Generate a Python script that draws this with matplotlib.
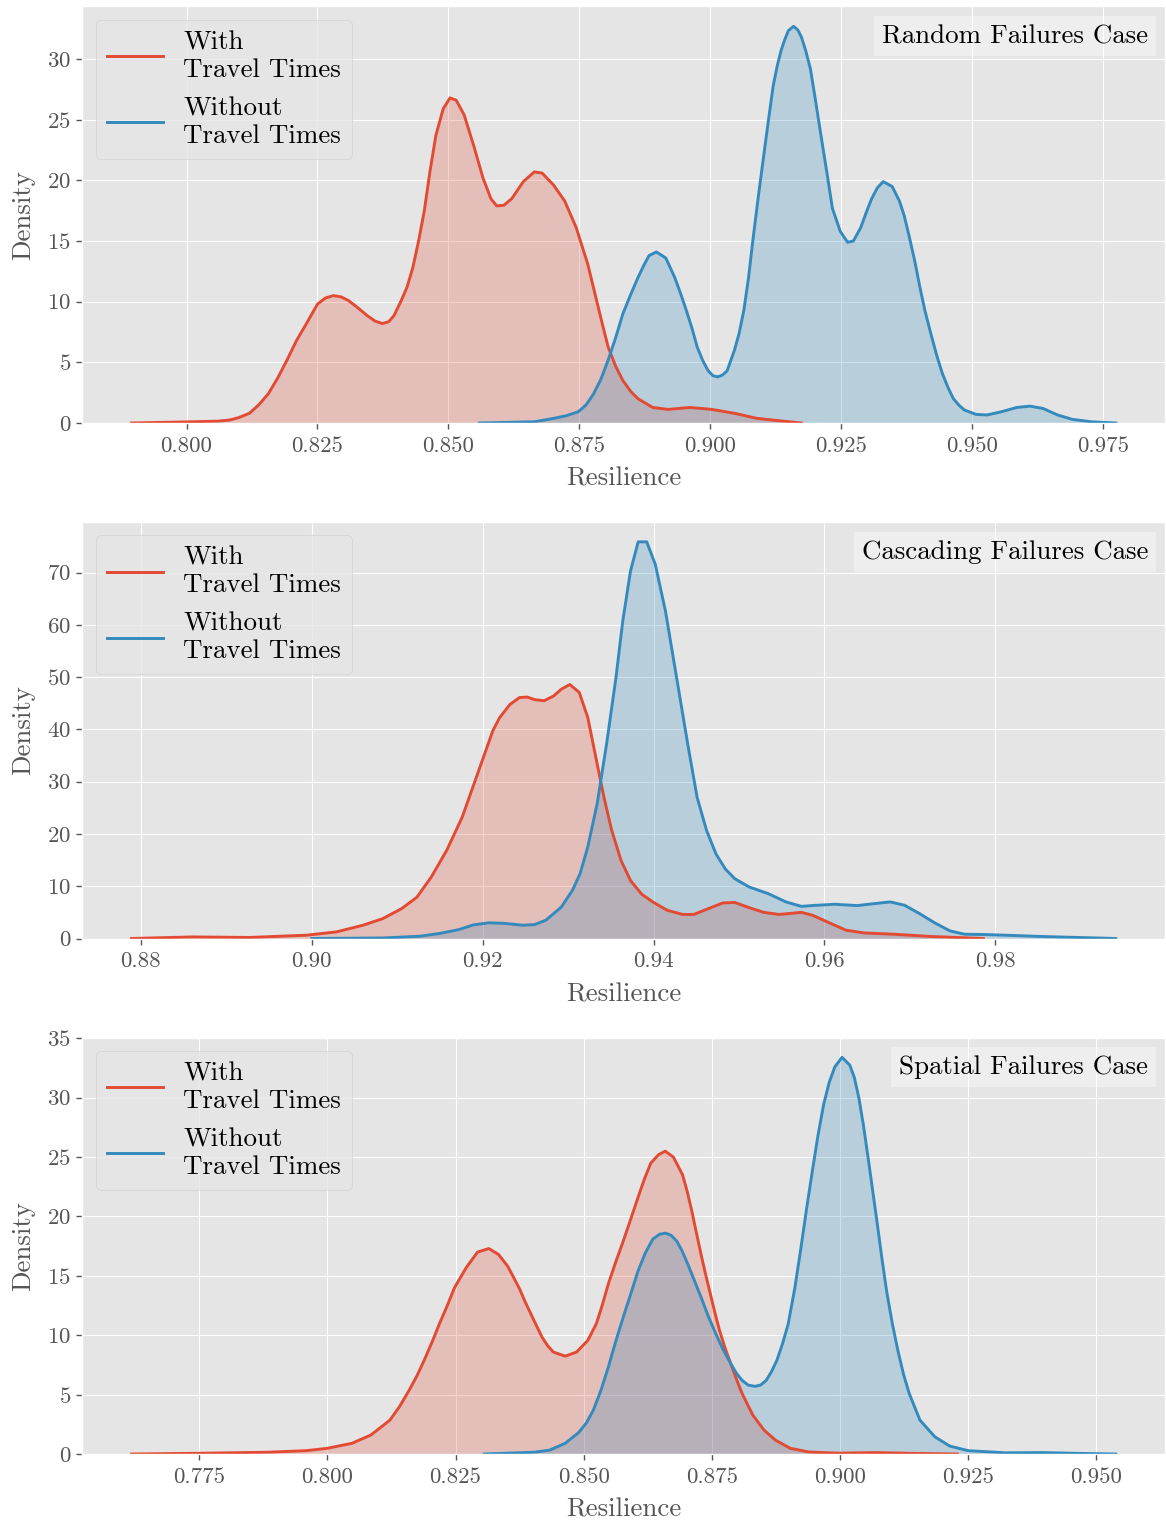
import matplotlib
matplotlib.use("Agg")
import matplotlib.pyplot as plt

plt.style.use("ggplot")
plt.rcParams["font.family"] = "serif"
plt.rcParams["font.serif"] = ["cmr10", "DejaVu Serif"]
plt.rcParams["axes.formatter.use_mathtext"] = True
plt.rcParams["mathtext.fontset"] = "cm"

# ---------------- data ----------------
case_titles = ["Random Failures Case", "Cascading Failures Case", "Spatial Failures Case"]
series_labels = ["With\nTravel Times", "Without\nTravel Times"]

rand_with_x = [0.7895, 0.7990, 0.8060, 0.8083, 0.8100, 0.8120, 0.8138, 0.8156, 0.8174, 0.8192,
               0.8210, 0.8229, 0.8250, 0.8265, 0.8280, 0.8295, 0.8309, 0.8327, 0.8345, 0.8360,
               0.8374, 0.8386, 0.8396, 0.8410, 0.8421, 0.8432, 0.8443, 0.8454, 0.8465, 0.8476,
               0.8490, 0.8503, 0.8515, 0.8530, 0.8548, 0.8566, 0.8581, 0.8592, 0.8606, 0.8621,
               0.8643, 0.8664, 0.8679, 0.8701, 0.8722, 0.8744, 0.8766, 0.8780, 0.8793, 0.8805,
               0.8819, 0.8833, 0.8848, 0.8862, 0.8890, 0.8919, 0.8961, 0.9003, 0.9046, 0.9089,
               0.9131, 0.9174]
rand_with_y = [0.0, 0.08, 0.15, 0.25, 0.45, 0.8, 1.5, 2.4, 3.7, 5.2,
               6.8, 8.2, 9.8, 10.3, 10.5, 10.4, 10.1, 9.5, 8.85, 8.4,
               8.2, 8.35, 8.85, 10.1, 11.2, 12.8, 15.0, 17.5, 20.8, 23.7,
               25.9, 26.8, 26.6, 25.4, 22.9, 20.2, 18.5, 17.9, 17.95, 18.5,
               19.9, 20.7, 20.6, 19.6, 18.3, 16.1, 13.1, 10.6, 8.3, 6.25,
               4.7, 3.5, 2.6, 2.0, 1.28, 1.12, 1.28, 1.12, 0.8, 0.38,
               0.19, 0.0]

rand_without_x = [0.8559, 0.8664, 0.8701, 0.8725, 0.8748, 0.8763, 0.8777, 0.8791, 0.8805, 0.8819,
                  0.8833, 0.8848, 0.8862, 0.8873, 0.8883, 0.8897, 0.8915, 0.8932, 0.8943, 0.8954,
                  0.8965, 0.8975, 0.8986, 0.8996, 0.9005, 0.9014, 0.9023, 0.9032, 0.9046, 0.9055,
                  0.9064, 0.9073, 0.9081, 0.9092, 0.9103, 0.9112, 0.9120, 0.9128, 0.9135, 0.9142,
                  0.9149, 0.9159, 0.9167, 0.9174, 0.9182, 0.9191, 0.9200, 0.9209, 0.9223, 0.9233,
                  0.9248, 0.9262, 0.9273, 0.9287, 0.9298, 0.9308, 0.9319, 0.9330, 0.9347, 0.9361,
                  0.9370, 0.9379, 0.9390, 0.9400, 0.9410, 0.9421, 0.9432, 0.9443, 0.9454, 0.9464,
                  0.9475, 0.9485, 0.9507, 0.9528, 0.9556, 0.9585, 0.9610, 0.9635, 0.9663, 0.9691,
                  0.9727, 0.9774]
rand_without_y = [0.0, 0.1, 0.38, 0.6, 0.93, 1.5, 2.4, 3.6, 5.2, 7.0,
                  9.0, 10.6, 12.0, 13.0, 13.8, 14.1, 13.6, 12.0, 10.7, 9.3,
                  7.8, 6.25, 5.1, 4.3, 3.9, 3.8, 3.95, 4.3, 6.0, 7.4,
                  9.3, 12.0, 15.0, 18.8, 22.4, 25.3, 27.8, 29.5, 30.7, 31.6,
                  32.35, 32.7, 32.4, 31.8, 30.7, 29.2, 26.8, 24.3, 20.5, 17.7,
                  15.8, 14.9, 15.0, 16.1, 17.4, 18.5, 19.4, 19.9, 19.5, 18.3,
                  17.1, 15.5, 13.4, 11.2, 9.2, 7.35, 5.6, 4.07, 2.9, 2.0,
                  1.45, 1.07, 0.71, 0.66, 0.93, 1.28, 1.39, 1.2, 0.66, 0.3,
                  0.1, 0.0]

casc_with_x = [0.8789, 0.8860, 0.8927, 0.8994, 0.9029, 0.9060, 0.9083, 0.9105, 0.9123, 0.9140,
               0.9158, 0.9176, 0.9194, 0.9212, 0.9220, 0.9232, 0.9243, 0.9252, 0.9261, 0.9272,
               0.9283, 0.9292, 0.9302, 0.9313, 0.9323, 0.9334, 0.9342, 0.9351, 0.9362, 0.9373,
               0.9386, 0.9399, 0.9416, 0.9434, 0.9447, 0.9464, 0.9481, 0.9495, 0.9512, 0.9529,
               0.9547, 0.9573, 0.9586, 0.9603, 0.9625, 0.9646, 0.9681, 0.9725, 0.9786]
casc_with_y = [0.0, 0.3, 0.2, 0.63, 1.27, 2.54, 3.8, 5.7, 7.9, 11.8,
               16.9, 23.2, 31.5, 39.8, 42.3, 44.8, 46.1, 46.2, 45.7, 45.5,
               46.4, 47.7, 48.6, 47.1, 42.3, 33.4, 27.0, 20.7, 14.9, 11.1,
               8.5, 7.0, 5.4, 4.6, 4.6, 5.7, 6.8, 6.9, 5.9, 5.0,
               4.6, 5.0, 4.45, 3.2, 1.6, 1.07, 0.82, 0.38, 0.0]

casc_without_x = [0.9000, 0.9083, 0.9127, 0.9149, 0.9172, 0.9189, 0.9207, 0.9225, 0.9247, 0.9261,
                  0.9274, 0.9292, 0.9305, 0.9314, 0.9323, 0.9334, 0.9345, 0.9356, 0.9364, 0.9373,
                  0.9382, 0.9392, 0.9402, 0.9414, 0.9427, 0.9440, 0.9451, 0.9462, 0.9473, 0.9484,
                  0.9495, 0.9512, 0.9534, 0.9555, 0.9573, 0.9590, 0.9612, 0.9638, 0.9660, 0.9677,
                  0.9694, 0.9712, 0.9729, 0.9747, 0.9764, 0.9786, 0.9812, 0.9855, 0.9941]
casc_without_y = [0.0, 0.1, 0.44, 0.95, 1.7, 2.6, 3.0, 2.9, 2.54, 2.67,
                  3.5, 6.0, 9.2, 12.4, 17.5, 25.8, 37.2, 49.9, 60.8, 70.3,
                  75.9, 75.9, 71.6, 62.6, 49.9, 37.2, 27.0, 20.7, 16.2, 13.3,
                  11.45, 9.85, 8.6, 7.0, 6.15, 6.35, 6.55, 6.3, 6.7, 7.0,
                  6.35, 4.7, 3.0, 1.45, 0.82, 0.76, 0.63, 0.38, 0.0]

spat_with_x = [0.7618, 0.7752, 0.7885, 0.7959, 0.8000, 0.8048, 0.8085, 0.8122, 0.8141, 0.8160,
               0.8175, 0.8189, 0.8204, 0.8219, 0.8234, 0.8248, 0.8271, 0.8293, 0.8315, 0.8334,
               0.8352, 0.8363, 0.8375, 0.8386, 0.8397, 0.8408, 0.8419, 0.8430, 0.8441, 0.8464,
               0.8486, 0.8508, 0.8525, 0.8536, 0.8548, 0.8562, 0.8577, 0.8592, 0.8606, 0.8618,
               0.8631, 0.8646, 0.8659, 0.8675, 0.8693, 0.8702, 0.8711, 0.8720, 0.8729, 0.8738,
               0.8747, 0.8756, 0.8765, 0.8776, 0.8787, 0.8798, 0.8809, 0.8830, 0.8852, 0.8874,
               0.8903, 0.8939, 0.8997, 0.9069, 0.9142, 0.9229]
spat_with_y = [0.0, 0.06, 0.15, 0.28, 0.48, 0.9, 1.6, 2.85, 4.0, 5.4,
               6.6, 7.9, 9.4, 11.0, 12.5, 14.0, 15.7, 17.0, 17.3, 16.8,
               15.8, 14.9, 13.9, 12.8, 11.8, 10.8, 9.83, 9.1, 8.58, 8.24,
               8.58, 9.56, 11.0, 12.5, 14.3, 16.1, 17.9, 19.8, 21.6, 23.1,
               24.5, 25.2, 25.5, 25.0, 23.5, 22.1, 20.45, 18.6, 16.8, 15.1,
               13.5, 11.9, 10.4, 8.9, 7.6, 6.3, 5.1, 3.27, 2.0, 1.17,
               0.48, 0.17, 0.07, 0.12, 0.05, 0.0]

spat_without_x = [0.8306, 0.8404, 0.8434, 0.8464, 0.8490, 0.8505, 0.8519, 0.8534, 0.8548, 0.8562,
                  0.8577, 0.8592, 0.8606, 0.8620, 0.8635, 0.8648, 0.8660, 0.8671, 0.8682, 0.8692,
                  0.8703, 0.8716, 0.8729, 0.8743, 0.8758, 0.8772, 0.8787, 0.8798, 0.8809, 0.8821,
                  0.8834, 0.8845, 0.8856, 0.8866, 0.8877, 0.8888, 0.8899, 0.8912, 0.8924, 0.8935,
                  0.8946, 0.8957, 0.8968, 0.8979, 0.8990, 0.9004, 0.9019, 0.9028, 0.9037, 0.9046,
                  0.9055, 0.9064, 0.9073, 0.9082, 0.9091, 0.9102, 0.9113, 0.9124, 0.9135, 0.9156,
                  0.9185, 0.9214, 0.9250, 0.9323, 0.9395, 0.9468, 0.9538]
spat_without_y = [0.0, 0.15, 0.33, 0.9, 1.8, 2.6, 3.7, 5.4, 7.3, 9.4,
                  11.5, 13.5, 15.4, 16.9, 18.1, 18.5, 18.6, 18.4, 17.9, 17.1,
                  16.0, 14.6, 13.2, 11.6, 10.1, 8.8, 7.6, 6.8, 6.2, 5.8,
                  5.7, 5.8, 6.2, 6.9, 7.9, 9.3, 10.95, 14.0, 17.4, 20.7,
                  23.8, 26.8, 29.4, 31.3, 32.6, 33.4, 32.75, 31.7, 29.95, 27.6,
                  24.9, 22.1, 19.3, 16.4, 13.7, 11.0, 8.7, 6.7, 5.1, 2.85,
                  1.45, 0.67, 0.28, 0.1, 0.12, 0.05, 0.0]

panels = [
    (rand_with_x, rand_with_y, rand_without_x, rand_without_y),
    (casc_with_x, casc_with_y, casc_without_x, casc_without_y),
    (spat_with_x, spat_with_y, spat_without_x, spat_without_y),
]

colors = ["#E24A33", "#348ABD"]

# ---------------- figure ----------------
W, H = 1166, 1524
fig = plt.figure(figsize=(W / 100, H / 100), dpi=100)

left_px, right_px = 82.3, 1165.0
ax_h = 416.5
bottoms_px = [423.0, 938.5, 1454.0]

TICK_FS = 16.5
LAB_FS = 19.4

for i, (wx, wy, wox, woy) in enumerate(panels):
    ax = fig.add_axes([left_px / W, 1 - bottoms_px[i] / H,
                       (right_px - left_px) / W, ax_h / H])
    ax.set_axisbelow(True)
    for (xs, ys), c in zip([(wx, wy), (wox, woy)], colors):
        ax.fill_between(xs, ys, 0, color=c, alpha=0.25, linewidth=0, zorder=1)
    handles = []
    for (xs, ys), c, lab in zip([(wx, wy), (wox, woy)], colors, series_labels):
        ln, = ax.plot(xs, ys, color=c, lw=2.1, label=lab, zorder=2,
                      solid_joinstyle="round")
        handles.append(ln)
    ax.set_ylim(bottom=0)
    ax.set_xlabel("Resilience", fontsize=LAB_FS, color="#555555", labelpad=8)
    ax.set_ylabel("Density", fontsize=LAB_FS, color="#555555", labelpad=9)
    ax.tick_params(labelsize=TICK_FS, length=4.5, width=1, colors="#555555")
    ax.tick_params(axis="x", pad=5)
    ax.legend(handles=handles, loc="upper left", fontsize=LAB_FS,
              handlelength=2.1, handletextpad=0.75, borderaxespad=0.5,
              labelspacing=0.55)
    ax.text(0.9846, 0.957, case_titles[i], transform=ax.transAxes,
            ha="right", va="top", fontsize=LAB_FS, color="black",
            bbox=dict(boxstyle="square,pad=0.3", facecolor="white",
                      alpha=0.35, edgecolor="none"))

fig.axes[0].xaxis.set_major_formatter(matplotlib.ticker.FormatStrFormatter("%.3f"))
fig.axes[1].xaxis.set_major_formatter(matplotlib.ticker.FormatStrFormatter("%.2f"))
fig.axes[2].xaxis.set_major_formatter(matplotlib.ticker.FormatStrFormatter("%.3f"))

fig.savefig("out.png", dpi=100)
